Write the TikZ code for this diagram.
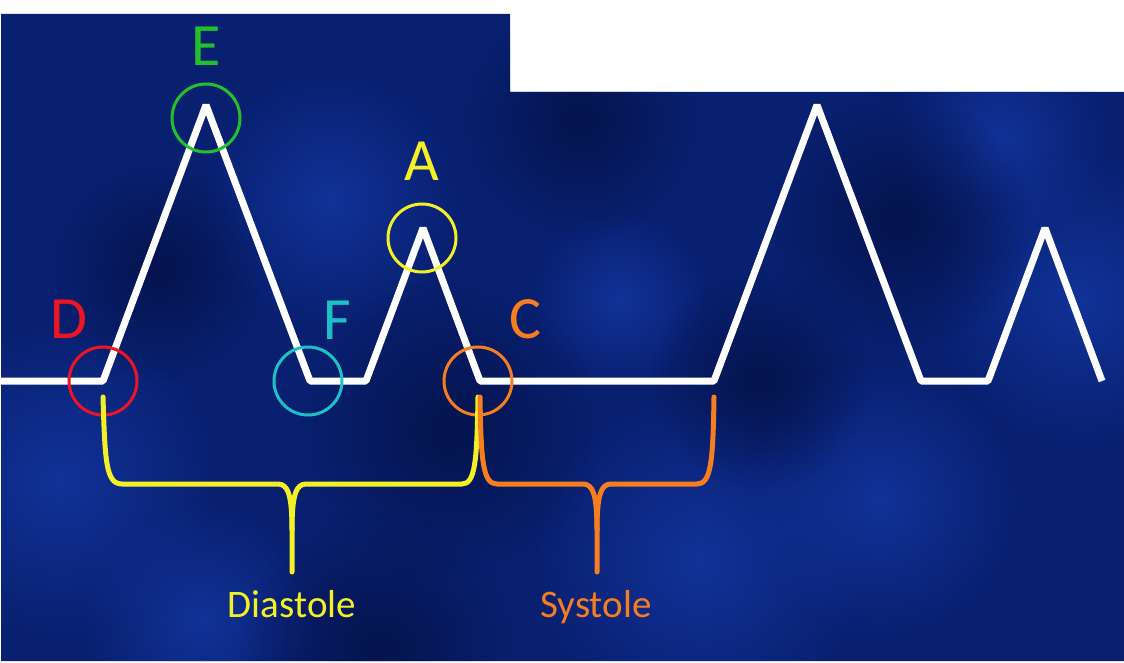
\documentclass[tikz,border=0pt]{standalone}
\usepackage{fontspec}
\setmainfont{Carlito}
\usetikzlibrary{fadings}

\definecolor{bgbase}{RGB}{9,32,112}
\definecolor{bglight}{RGB}{17,50,152}
\definecolor{bgdark}{RGB}{5,20,78}
\definecolor{dred}{RGB}{236,22,34}
\definecolor{egreen}{RGB}{34,192,44}
\definecolor{fcyan}{RGB}{30,192,200}
\definecolor{ayellow}{RGB}{244,240,40}
\definecolor{corange}{RGB}{246,126,32}

\tikzfading[name=blob, inner color=transparent!0, outer color=transparent!100]

\tikzset{
  wave/.style={white, line width=7pt, line join=bevel},
  ring/.style={circle, draw=#1, line width=3pt, minimum size=68pt, inner sep=0pt},
  lab/.style={text=#1, font=\fontsize{60}{60}\selectfont, inner sep=0pt},
  phase/.style={text=#1, font=\fontsize{39}{39}\selectfont, inner sep=0pt, anchor=base},
  brace/.style={draw=#1, line width=5pt, line cap=round, line join=round}
}

\begin{document}
\begin{tikzpicture}[x=1pt, y=-1pt]
  \useasboundingbox (0,0) rectangle (1124,663);
  % Background
  \fill[white] (0,0) rectangle (1124,663);
  \begin{scope}
    \clip (1,14) -- (510,14) -- (510,92) -- (1124,92) -- (1124,661) -- (1,661) -- cycle;
    \fill[bgbase] (0,0) rectangle (1124,663);
    \foreach \x/\y/\r in {60/480/160, 330/200/130, 1080/300/150, 700/560/170,
                          880/500/140, 1000/140/110, 200/620/120, 620/300/90}
      \fill[bglight, path fading=blob] (\x,\y) circle (\r);
    \foreach \x/\y/\r in {450/430/150, 160/270/110, 580/120/120, 900/220/130,
                          380/650/140, 760/380/110}
      \fill[bgdark, path fading=blob] (\x,\y) circle (\r);
  \end{scope}

  % Wave
  \draw[wave] (0,381) -- (103,381) -- (206,105) -- (310,381) -- (366,381)
    -- (423,228) -- (480,381) -- (714,381) -- (817,105) -- (921,381)
    -- (988,381) -- (1045,228) -- (1102,381);

  % Circles
  \node[ring=dred] (d) at (103,381) {};
  \node[ring=egreen] (e) at (206,118) {};
  \node[ring=fcyan] (f) at (308,381) {};
  \node[ring=ayellow] (a) at (422,238) {};
  \node[ring=corange] (c) at (478,381) {};

  % Point labels
  \node[lab=dred] (dlab) at (69,319) {D};
  \node[lab=egreen] (elab) at (206,46) {E};
  \node[lab=fcyan] (flab) at (337,320) {F};
  \node[lab=ayellow] (alab) at (422,161) {A};
  \node[lab=corange] (clab) at (525,319) {C};

  % Braces
  \draw[brace=ayellow] (103,397) .. controls (105,462) and (106,484) .. (122,484)
    -- (278,484) .. controls (288,484) and (292,495) .. (292,530) -- (292,572);
  \draw[brace=ayellow] (292,530) .. controls (292,495) and (296,484) .. (306,484)
    -- (462,484) .. controls (475,484) and (477,462) .. (478,397);
  \draw[brace=corange] (480,397) .. controls (481,462) and (483,484) .. (497,484)
    -- (583,484) .. controls (593,484) and (597,495) .. (597,530) -- (597,572);
  \draw[brace=corange] (597,530) .. controls (597,495) and (601,484) .. (611,484)
    -- (697,484) .. controls (711,484) and (713,462) .. (714,397);

  % Phase names
  \node[phase=ayellow] (dia) at (292,617) {Diastole};
  \node[phase=corange] (sys) at (596,617) {Systole};
\end{tikzpicture}
\end{document}
